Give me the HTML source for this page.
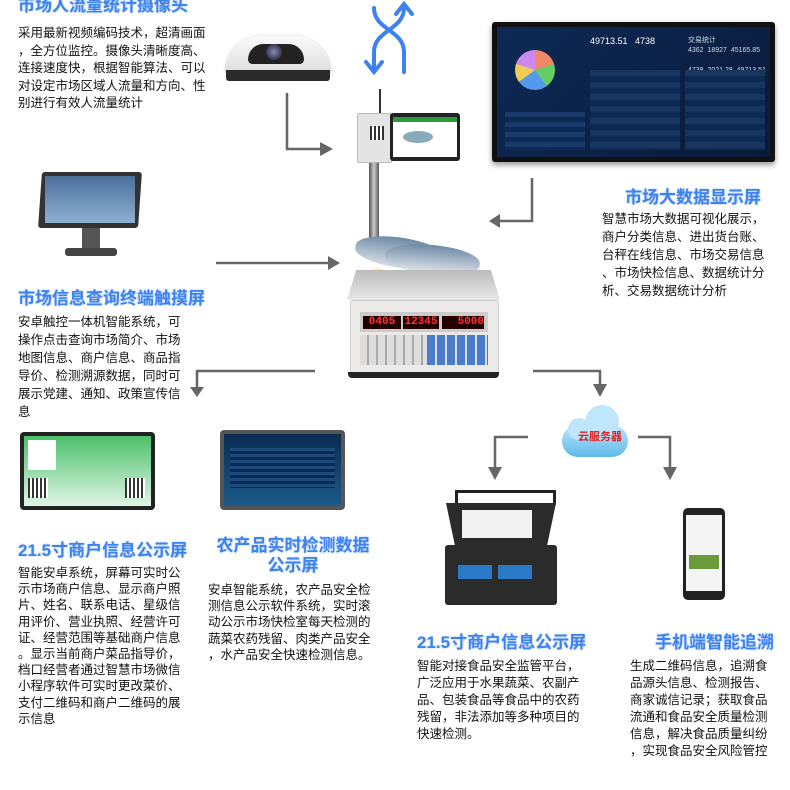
<!DOCTYPE html>
<html><head><meta charset="utf-8"><style>
body{margin:0;width:790px;height:790px;background:#fff;position:relative;overflow:hidden;font-family:"Liberation Sans","Noto Sans CJK SC",sans-serif}
.a{position:absolute}
.t{position:absolute;color:#3d82ee;font-weight:bold;font-size:17px;white-space:nowrap;text-shadow:0 0 2px #aac8f6}
.p{position:absolute;color:#111;font-size:12.5px;line-height:18px;white-space:nowrap}
</style></head><body>

<div class="t" style="left:18px;top:-9px">市场人流量统计摄像头</div>
<div class="p" style="left:18px;top:25px;line-height:17.5px">采用最新视频编码技术，超清画面<br>，全方位监控。摄像头清晰度高、<br>连接速度快，根据智能算法、可以<br>对设定市场区域人流量和方向、性<br>别进行有效人流量统计</div>

<div class="a" style="left:226px;top:36px;width:104px;height:38px;background:linear-gradient(#fafafa,#ddd);border-radius:40px 40px 4px 4px;box-shadow:0 1px 3px #aaa"></div>
<div class="a" style="left:248px;top:44px;width:56px;height:20px;background:#222;border-radius:28px 28px 8px 8px"></div>
<div class="a" style="left:266px;top:44px;width:16px;height:16px;background:radial-gradient(#88a,#113);border-radius:50%"></div>
<div class="a" style="left:226px;top:70px;width:104px;height:11px;background:#2a2a2a;border-radius:0 0 3px 3px"></div>

<svg class="a" style="left:360px;top:0" width="60" height="80" viewBox="0 0 60 80"><g fill="none" stroke="#3d82ee" stroke-width="4" stroke-linecap="round"><path d="M14 8 C14 30 44 30 44 52 L44 72"/><path d="M44 8 C44 30 14 30 14 52 L14 70"/><path d="M6 62 L14 72 L22 62"/><path d="M36 14 L44 4 L52 14"/></g></svg>

<div class="a" style="left:492px;top:22px;width:283px;height:140px;background:#111;border-radius:3px;box-shadow:0 3px 6px #999"></div>
<div class="a" style="left:497px;top:27px;width:273px;height:130px;background:linear-gradient(135deg,#0d2a55,#0a1a3a)"></div>
<div class="a" style="left:515px;top:50px;width:40px;height:40px;border-radius:50%;background:conic-gradient(#e86 0 20%,#6c6 0 40%,#59e 0 65%,#ec5 0 80%,#c8e 0)"></div>
<div class="a" style="left:590px;top:36px;color:#fff;font-size:9px">49713.51 &nbsp; 4738</div>
<div class="a" style="left:688px;top:36px;color:#cde;font-size:7px;line-height:10px">交易统计<br>4362 &nbsp;18927 &nbsp;45165.85<br><br>4738 &nbsp;2021.28 &nbsp;49713.51</div>
<div class="a" style="left:505px;top:112px;width:80px;height:38px;background:repeating-linear-gradient(#1b3a6a 0 5px,#0d2a55 5px 10px)"></div>
<div class="a" style="left:590px;top:70px;width:90px;height:80px;background:repeating-linear-gradient(#183560 0 6px,#0d2a55 6px 12px)"></div>
<div class="a" style="left:685px;top:70px;width:80px;height:80px;background:repeating-linear-gradient(#183560 0 6px,#0d2a55 6px 12px)"></div>

<div class="t" style="left:625px;top:183px">市场大数据显示屏</div>
<div class="p" style="left:602px;top:210px">智慧市场大数据可视化展示，<br>商户分类信息、进出货台账、<br>台秤在线信息、市场交易信息<br>、市场快检信息、数据统计分<br>析、交易数据统计分析</div>

<div class="a" style="left:40px;top:172px;width:100px;height:56px;background:#333;border-radius:3px;transform:skewX(-4deg)"></div>
<div class="a" style="left:45px;top:176px;width:90px;height:47px;background:linear-gradient(#4a6f9a,#8fb0d0)"></div>
<div class="a" style="left:82px;top:228px;width:18px;height:20px;background:#555"></div>
<div class="a" style="left:65px;top:248px;width:52px;height:8px;background:#444;border-radius:3px"></div>

<div class="t" style="left:18px;top:284px">市场信息查询终端触摸屏</div>
<div class="p" style="left:18px;top:313px">安卓触控一体机智能系统，可<br>操作点击查询市场简介、市场<br>地图信息、商户信息、商品指<br>导价、检测溯源数据，同时可<br>展示党建、通知、政策宣传信<br>息</div>

<div class="a" style="left:369px;top:160px;width:10px;height:80px;background:linear-gradient(90deg,#555,#ccc,#555)"></div>
<div class="a" style="left:379px;top:89px;width:2px;height:25px;background:#333"></div>
<div class="a" style="left:357px;top:113px;width:33px;height:48px;background:#e4e4e4;border:1px solid #bbb;border-radius:2px"></div>
<div class="a" style="left:370px;top:126px;width:14px;height:14px;background:repeating-linear-gradient(90deg,#333 0 2px,#fff 2px 4px)"></div>
<div class="a" style="left:390px;top:113px;width:70px;height:48px;background:#222;border-radius:3px"></div>
<div class="a" style="left:393px;top:117px;width:64px;height:40px;background:#fff"></div>
<div class="a" style="left:393px;top:117px;width:64px;height:5px;background:#2a9a3a"></div>
<div class="a" style="left:403px;top:131px;width:30px;height:12px;background:#8ab;border-radius:50%"></div>
<div class="a" style="left:355px;top:238px;width:95px;height:30px;background:linear-gradient(#6f8aa6,#d5dde6);border-radius:50% 60% 40% 50%;transform:rotate(8deg)"></div>
<div class="a" style="left:385px;top:245px;width:95px;height:28px;background:linear-gradient(#6f8aa6,#dfe5ea);border-radius:50% 60% 40% 50%;transform:rotate(4deg)"></div>
<div class="a" style="left:365px;top:268px;width:22px;height:22px;background:#f5d04a;border-radius:50%;border:2px solid #fff2a8"></div>
<div class="a" style="left:385px;top:282px;width:30px;height:18px;background:#3a8a2a;border-radius:50%"></div>
<div class="a" style="left:347px;top:270px;width:153px;height:30px;background:linear-gradient(#bbb,#e8e8e8);clip-path:polygon(6% 0,94% 0,100% 100%,0 100%)"></div>
<div class="a" style="left:350px;top:300px;width:147px;height:72px;background:#eceae8;border:1px solid #ccc;border-radius:3px"></div>
<div class="a" style="left:360px;top:312px;width:128px;height:20px;background:#ccc"></div>
<div class="a" style="left:363px;top:316px;width:38px;height:13px;background:#200;color:#f33;font:bold 11px 'Liberation Mono',monospace;text-align:center">0405</div>
<div class="a" style="left:403px;top:316px;width:36px;height:13px;background:#200;color:#f33;font:bold 11px 'Liberation Mono',monospace;text-align:center">12345</div>
<div class="a" style="left:442px;top:316px;width:42px;height:13px;background:#200;color:#f33;font:bold 11px 'Liberation Mono',monospace;text-align:right">5000</div>
<div class="a" style="left:360px;top:335px;width:128px;height:30px;background:repeating-linear-gradient(90deg,#ddd 0 7px,#aaa 7px 9px)"></div>
<div class="a" style="left:427px;top:335px;width:61px;height:30px;background:repeating-linear-gradient(90deg,#4a7ccc 0 8px,#ddd 8px 10px)"></div>
<div class="a" style="left:348px;top:372px;width:151px;height:6px;background:#222;border-radius:0 0 4px 4px"></div>

<svg class="a" style="left:0;top:0" width="790" height="790"><g fill="none" stroke="#666" stroke-width="2.5"><path d="M287 93 V149 H322"/><path d="M532 178 V221 H498"/><path d="M216 263 H330"/><path d="M315 371 H197 V390"/><path d="M533 371 H600 V390"/><path d="M528 437 H495 V472"/><path d="M638 437 H670 V472"/></g>
<g fill="#666"><path d="M320 142 L333 149 L320 156Z"/><path d="M500 214 L489 221 L500 228Z"/><path d="M328 256 L340 263 L328 270Z"/><path d="M190 387 L197 397 L204 387Z"/><path d="M593 384 L600 397 L607 384Z"/><path d="M488 467 L495 480 L502 467Z"/><path d="M663 467 L670 480 L677 467Z"/></g></svg>

<div class="a" style="left:562px;top:425px;width:66px;height:32px;background:linear-gradient(#bfe6fb,#5fb9ea);border-radius:16px"></div>
<div class="a" style="left:585px;top:405px;width:34px;height:34px;background:#bfe6fb;border-radius:50%"></div>
<div class="a" style="left:568px;top:418px;width:22px;height:22px;background:#bfe6fb;border-radius:50%"></div>
<div class="a" style="left:570px;top:428px;width:60px;font-size:11px;font-weight:bold;color:#d22;text-align:center">云服务器</div>

<div class="a" style="left:20px;top:432px;width:135px;height:78px;background:#222;border-radius:4px"></div>
<div class="a" style="left:24px;top:436px;width:127px;height:70px;background:linear-gradient(#4cc06a,#dff5e6)"></div>
<div class="a" style="left:28px;top:440px;width:28px;height:30px;background:#fff"></div>
<div class="a" style="left:28px;top:478px;width:20px;height:20px;background:repeating-linear-gradient(90deg,#333 0 2px,#fff 2px 4px)"></div>
<div class="a" style="left:125px;top:478px;width:20px;height:20px;background:repeating-linear-gradient(90deg,#333 0 2px,#fff 2px 4px)"></div>

<div class="a" style="left:220px;top:430px;width:125px;height:80px;background:#555;border-radius:4px"></div>
<div class="a" style="left:224px;top:434px;width:117px;height:72px;background:linear-gradient(#0b2c52,#1b5a8a)"></div>
<div class="a" style="left:230px;top:448px;width:105px;height:40px;background:repeating-linear-gradient(#1d4a7a 0 3px,#0b2c52 3px 6px)"></div>

<div class="t" style="left:18px;top:536px">21.5寸商户信息公示屏</div>
<div class="t" style="left:208px;top:536px;width:170px;text-align:center;line-height:20px">农产品实时检测数据<br>公示屏</div>
<div class="p" style="left:18px;top:565px;line-height:16.2px">智能安卓系统，屏幕可实时公<br>示市场商户信息、显示商户照<br>片、姓名、联系电话、星级信<br>用评价、营业执照、经营许可<br>证、经营范围等基础商户信息<br>。显示当前商户菜品指导价，<br>档口经营者通过智慧市场微信<br>小程序软件可实时更改菜价、<br>支付二维码和商户二维码的展<br>示信息</div>
<div class="p" style="left:208px;top:582px;line-height:16.2px">安卓智能系统，农产品安全检<br>测信息公示软件系统，实时滚<br>动公示市场快检室每天检测的<br>蔬菜农药残留、肉类产品安全<br>，水产品安全快速检测信息。</div>

<div class="a" style="left:455px;top:490px;width:95px;height:12px;border:3px solid #222;border-bottom:none"></div>
<div class="a" style="left:446px;top:503px;width:110px;height:42px;background:#2b2b2b;clip-path:polygon(0 0,100% 0,92% 100%,8% 100%)"></div>
<div class="a" style="left:462px;top:510px;width:70px;height:28px;background:#f2f2f2"></div>
<div class="a" style="left:445px;top:545px;width:112px;height:60px;background:#2b2b2b;border-radius:3px"></div>
<div class="a" style="left:458px;top:565px;width:34px;height:14px;background:#2a7ac8"></div>
<div class="a" style="left:498px;top:565px;width:34px;height:14px;background:#2a7ac8"></div>

<div class="a" style="left:683px;top:508px;width:42px;height:92px;background:#222;border-radius:5px"></div>
<div class="a" style="left:686px;top:515px;width:36px;height:76px;background:#f4f4f4"></div>
<div class="a" style="left:689px;top:555px;width:30px;height:14px;background:#6a9a3a"></div>

<div class="t" style="left:417px;top:628px">21.5寸商户信息公示屏</div>
<div class="t" style="left:655px;top:628px">手机端智能追溯</div>
<div class="p" style="left:417px;top:658px;line-height:17px">智能对接食品安全监管平台，<br>广泛应用于水果蔬菜、农副产<br>品、包装食品等食品中的农药<br>残留，非法添加等多种项目的<br>快速检测。</div>
<div class="p" style="left:630px;top:658px;line-height:17px">生成二维码信息，追溯食<br>品源头信息、检测报告、<br>商家诚信记录；获取食品<br>流通和食品安全质量检测<br>信息，解决食品质量纠纷<br>，实现食品安全风险管控</div>
</body></html>
